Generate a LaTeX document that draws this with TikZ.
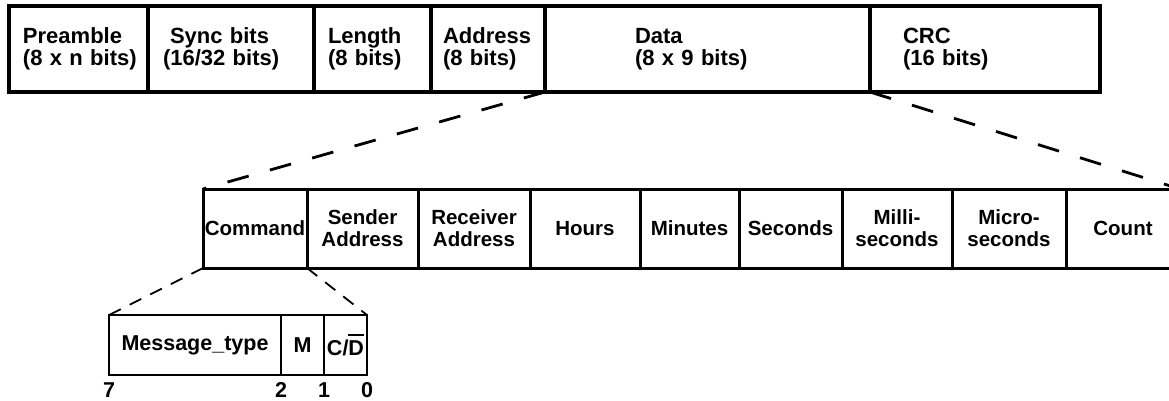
\documentclass[tikz,border=0pt]{standalone}
\usepackage{fontspec}
\setmainfont{Liberation Sans}
\usepackage{tikz}
\usetikzlibrary{positioning}
\newcommand{\topfont}{\fontsize{22}{22}\selectfont\bfseries}
\newcommand{\subfont}{\fontsize{20.5}{22}\selectfont\bfseries}
\newcommand{\bitfont}{\fontsize{21.5}{22}\selectfont\bfseries}
\newcommand{\barD}{\vbox{\hrule height 2.2pt\kern 5pt\hbox{D}}}
\tikzstyle{frame} = [rectangle, draw=black, line width=3.2pt, outer sep=0pt, minimum height=86pt, inner ysep=0pt, align=left, font=\topfont]
\tikzstyle{field} = [rectangle, draw=black, line width=3pt, outer sep=0pt, minimum height=79pt, inner xsep=1pt, inner ysep=0pt, align=center, font=\subfont]
\tikzstyle{bitfield} = [rectangle, draw=black, line width=2.4pt, outer sep=0pt, minimum height=60pt, inner xsep=1pt, inner ysep=0pt, font=\bitfont]
\tikzstyle{bitnum} = [inner sep=0pt, font=\bitfont]
\tikzstyle{zoomline} = [line width=2.8pt, dash pattern=on 22pt off 22pt]
\tikzstyle{zoomlinesmall} = [line width=1.8pt, dash pattern=on 13pt off 10pt]
\begin{document}
\begin{tikzpicture}[x=1pt, y=-1pt]
\useasboundingbox (0,0) rectangle (1169,400);
\clip (0,0) rectangle (1169,400);

\node (preamble) [frame, anchor=north west, text width=111pt, inner xsep=14pt] at (9,6) {Preamble\\(8~x~n~bits)};
\node (sync) [frame, right=0pt of preamble, text width=136pt, inner xsep=15pt] {\hspace*{7pt}Sync bits\\(16/32 bits)};
\node (length) [frame, right=0pt of sync, text width=89pt, inner xsep=14pt] {Length\\(8 bits)};
\node (address) [frame, right=0pt of length, text width=90pt, inner xsep=12pt] {Address\\(8 bits)};
\node (data) [frame, right=0pt of address, text width=145pt, inner xsep=90pt] {Data\\(8 x 9 bits)};
\node (crc) [frame, right=0pt of data, text width=164pt, inner xsep=33pt] {CRC\\(16 bits)};

\node (command) [field, anchor=north west, minimum width=104pt] at (203,189) {Command};
\node (sender) [field, right=0pt of command, minimum width=111pt] {Sender\\Address};
\node (receiver) [field, right=0pt of sender, minimum width=112pt] {Receiver\\Address};
\node (hours) [field, right=0pt of receiver, minimum width=110pt] {Hours};
\node (minutes) [field, right=0pt of hours, minimum width=99pt] {Minutes};
\node (seconds) [field, right=0pt of minutes, minimum width=103pt] {Seconds};
\node (millis) [field, right=0pt of seconds, minimum width=110pt] {Milli-\\seconds};
\node (micros) [field, right=0pt of millis, minimum width=114pt] {Micro-\\seconds};
\node (count) [field, right=0pt of micros, minimum width=114pt] {Count};

\node (msgtype) [bitfield, anchor=north west, minimum width=172pt] at (109,315) {Message\_type};
\node (mbit) [bitfield, right=0pt of msgtype, minimum width=43pt] {M};
\node (cdbit) [bitfield, right=0pt of mbit, minimum width=43pt] {C/\barD};

\node (bit7) [bitnum, below=7pt of msgtype.south west] {7};
\node (bit2) [bitnum, below=7pt of msgtype.south east] {2};
\node (bit1) [bitnum, below=7pt of mbit.south east] {1};
\node (bit0) [bitnum, below=7pt of cdbit.south east] {0};

\draw [zoomline] (data.south west) -- (command.north west);
\draw [zoomline] (crc.south west) -- (count.north east);
\draw [zoomlinesmall] (command.south west) -- (msgtype.north west);
\draw [zoomlinesmall] (command.south east) -- (cdbit.north east);
\end{tikzpicture}
\end{document}
